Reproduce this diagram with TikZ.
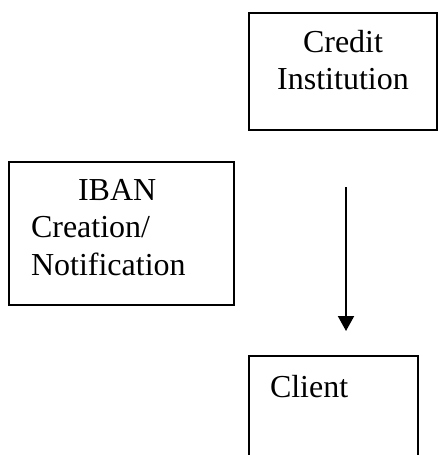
\documentclass[tikz,border=0pt]{standalone}
\usepackage{fontspec}
\setmainfont{Liberation Serif}
\usetikzlibrary{arrows.meta}
\begin{document}
\begin{tikzpicture}[x=1pt,y=-1pt,
  boxnode/.style={draw,line width=1.8pt,inner sep=0pt,outer sep=0pt,anchor=north west,rectangle},
  txt/.style={inner sep=0pt,outer sep=0pt,font=\fontsize{32}{37.5}\selectfont},
  arr/.style={line width=2pt,-{Triangle[width=16pt,length=15pt]}}]
\useasboundingbox (0,0) rectangle (438,455);
\node[boxnode,minimum width=188pt,minimum height=117pt] (credit) at (249,13) {};
\node[boxnode,minimum width=225pt,minimum height=143pt] (iban) at (9,162) {};
\node[boxnode,minimum width=169pt,minimum height=125pt] (client) at (249,356) {};
\node[txt,align=center,anchor=north] (credittxt) at (343,30) {Credit\\Institution};
\node[txt,align=left,anchor=north west] (ibantxt) at (31,179) {\hspace*{47pt}IBAN\\Creation/\\Notification};
\node[txt,anchor=north west] (clienttxt) at (270,375) {Client};
\coordinate (a1) at (346,187);
\coordinate (a2) at (346,331);
\draw[arr] (a1) -- (a2);
\end{tikzpicture}
\end{document}
